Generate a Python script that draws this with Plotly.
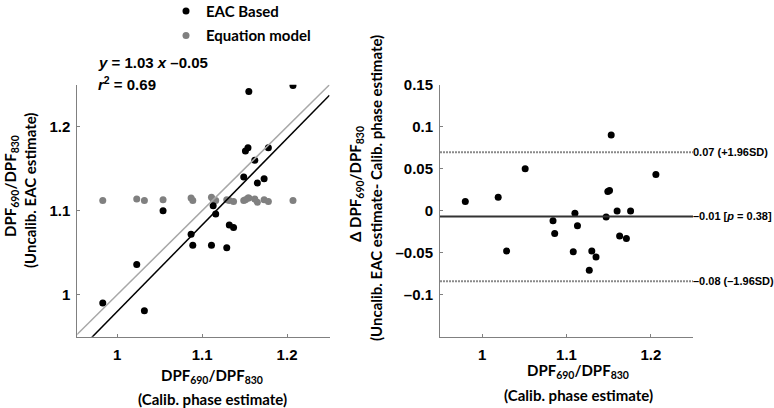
import plotly.graph_objects as go

# ---------------- data ----------------
# Left panel: calibrated phase estimate (x) vs uncalibrated EAC estimate (y)
calib_x = [1.155, 1.207, 1.151, 1.154, 1.178, 1.162, 1.149, 1.173, 1.165, 1.054, 1.113,
           1.116, 1.132, 1.137, 1.087, 1.089, 1.111, 1.129, 1.023, 0.983, 1.032]
eac_y = [1.242, 1.249, 1.171, 1.175, 1.175, 1.160, 1.140, 1.138, 1.133, 1.100, 1.106,
         1.096, 1.083, 1.080, 1.072, 1.059, 1.059, 1.056, 1.036, 0.990, 0.981]
equation_y = [1.115, 1.112, 1.113, 1.115, 1.111, 1.114, 1.112, 1.113, 1.110, 1.113, 1.113,
              1.112, 1.112, 1.111, 1.115, 1.112, 1.116, 1.113, 1.114, 1.112, 1.112]

fit_slope = 1.03
fit_intercept = -0.05
line_x = [0.95, 1.25]

# Right panel: Bland-Altman
ba_x = [1.153, 1.051, 1.206, 0.980, 1.019, 1.149, 1.151, 1.110, 1.160, 1.176, 1.147,
        1.084, 1.113, 1.086, 1.163, 1.171, 1.029, 1.108, 1.130, 1.135, 1.127]
ba_diff = [0.090, 0.050, 0.043, 0.011, 0.016, 0.023, 0.024, -0.003, -0.0004, -0.0004, -0.0075,
           -0.012, -0.018, -0.027, -0.030, -0.033, -0.048, -0.049, -0.048, -0.055, -0.071]
upper_loa = 0.0695
mean_diff = -0.0068
lower_loa = -0.0840
upper_label = "0.07 (+1.96SD)"
mean_label = "\u20130.01 [<i>p</i> = 0.38]"
lower_label = "\u20130.08 (\u20131.96SD)"

xticks = [1, 1.1, 1.2]
left_yticks = [1, 1.1, 1.2]
right_yticks = [0.15, 0.1, 0.05, 0, -0.05, -0.1]
right_yticktext = ["0.15", "0.1", "0.05", "0", "\u20130.05", "\u20130.1"]

# ---------------- figure ----------------
W, H = 774, 408
TICKFONT = dict(family="Liberation Sans, Arial", size=15, color="black", weight="bold")
TITLEFONT = dict(family="Lato, Open Sans", size=15, color="black", weight="bold")

fig = go.Figure()

fig.add_trace(go.Scatter(x=calib_x, y=equation_y, mode="markers", name="Equation model",
                         marker=dict(color="#808080", size=7), legendrank=2,
                         legendgroup="b", xaxis="x", yaxis="y"))
fig.add_trace(go.Scatter(x=calib_x, y=eac_y, mode="markers", name="EAC Based",
                         marker=dict(color="black", size=7), legendrank=1,
                         legendgroup="a", xaxis="x", yaxis="y"))
fig.add_trace(go.Scatter(x=line_x, y=line_x, mode="lines", showlegend=False,
                         line=dict(color="#a8a8a8", width=1.5), xaxis="x", yaxis="y"))
fig.add_trace(go.Scatter(x=line_x, y=[fit_slope * v + fit_intercept for v in line_x],
                         mode="lines", showlegend=False,
                         line=dict(color="black", width=1.5), xaxis="x", yaxis="y"))

fig.add_trace(go.Scatter(x=ba_x, y=ba_diff, mode="markers", showlegend=False,
                         marker=dict(color="black", size=7), xaxis="x2", yaxis="y2"))

for val, col, dash, wid in [(upper_loa, "#8a8a8a", "2px,1px", 2),
                            (mean_diff, "#333333", "solid", 2),
                            (lower_loa, "#8a8a8a", "2px,1px", 2)]:
    fig.add_shape(type="line", xref="x2 domain", yref="y2", x0=0, x1=1, y0=val, y1=val,
                  line=dict(color=col, dash=dash, width=wid))

for val, txt in [(upper_loa, upper_label), (mean_diff, mean_label), (lower_loa, lower_label)]:
    fig.add_annotation(xref="x2 domain", yref="y2", x=1.0, y=val, text=txt, showarrow=False,
                       xanchor="left", yanchor="middle", xshift=-2,
                       font=dict(family="Liberation Sans, Arial", size=11, color="black",
                                 weight="bold"))

def px(xp):
    return xp / W

def py(yp):
    return 1 - yp / H

axis_common = dict(showgrid=False, zeroline=False, showline=True, linecolor="#808080",
                   linewidth=1, ticks="inside", ticklen=3, tickcolor="#808080",
                   tickfont=TICKFONT, automargin=False)

y_dom = [py(336.7), py(84.7)]
fig.update_layout(
    width=W, height=H, margin=dict(l=0, r=0, t=0, b=0, autoexpand=False),
    paper_bgcolor="white", plot_bgcolor="white",
    xaxis=dict(domain=[px(77.3), px(329.5)], range=[0.953, 1.25], tickvals=xticks,
               ticktext=["1", "1.1", "1.2"], anchor="y", ticklabelstandoff=4, **axis_common),
    yaxis=dict(domain=y_dom, range=[0.95, 1.25], tickvals=left_yticks,
               ticktext=["1", "1.1", "1.2"], anchor="x", ticklabelstandoff=3, **axis_common),
    xaxis2=dict(domain=[px(440), px(693)], range=[0.95, 1.25], tickvals=xticks,
                ticktext=["1", "1.1", "1.2"], anchor="y2", ticklabelstandoff=4, **axis_common),
    yaxis2=dict(domain=y_dom, range=[-0.15, 0.15], tickvals=right_yticks,
                ticktext=right_yticktext, anchor="x2", ticklabelstandoff=3, **axis_common),
    legend=dict(x=px(166), y=1.013, xanchor="left", yanchor="top", orientation="v",
                font=TITLEFONT, bgcolor="rgba(0,0,0,0)", traceorder="grouped",
                tracegroupgap=2),
    showlegend=True,
)

# equation annotation
fig.add_annotation(xref="paper", yref="paper", x=px(96), y=py(62), xanchor="left",
                   yanchor="middle", showarrow=False,
                   text="<i>y</i> = 1.03 <i>x</i> \u20130.05",
                   font=dict(family="Liberation Sans, Arial", size=15, color="black",
                             weight="bold"))
fig.add_annotation(xref="paper", yref="paper", x=px(96), y=py(84), xanchor="left",
                   yanchor="middle", showarrow=False,
                   text="<i>r</i><sup>2</sup> = 0.69",
                   font=dict(family="Liberation Sans, Arial", size=15, color="black",
                             weight="bold"))

ratio = "DPF<sub>690</sub>/DPF<sub>830</sub>"
# x-axis titles
for cx, y1, y2 in [(212, 376, 399), (578, 371, 395)]:
    fig.add_annotation(xref="paper", yref="paper", x=px(cx), y=py(y1), text=ratio,
                       showarrow=False, xanchor="center", yanchor="middle", font=TITLEFONT)
    fig.add_annotation(xref="paper", yref="paper", x=px(cx), y=py(y2),
                       text="(Calib. phase estimate)", showarrow=False,
                       xanchor="center", yanchor="middle", font=TITLEFONT)

# y-axis titles
fig.add_annotation(xref="paper", yref="paper", x=px(11), y=py(186), text=ratio,
                   textangle=-90, showarrow=False, xanchor="center", yanchor="middle",
                   font=TITLEFONT)
fig.add_annotation(xref="paper", yref="paper", x=px(30), y=py(190),
                   text="(Uncalib. EAC estimate)", textangle=-90, showarrow=False,
                   xanchor="center", yanchor="middle", font=TITLEFONT)
fig.add_annotation(xref="paper", yref="paper", x=px(356), y=py(184),
                   text="\u0394 " + ratio, textangle=-90, showarrow=False,
                   xanchor="center", yanchor="middle", font=TITLEFONT)
fig.add_annotation(xref="paper", yref="paper", x=px(376), y=py(188),
                   text="(Uncalib. EAC estimate- Calib. phase estimate)", textangle=-90,
                   showarrow=False, xanchor="center", yanchor="middle", font=TITLEFONT)

fig.write_html("out.html", config={"displayModeBar": False},
               post_script="document.body.style.margin='0px';")
